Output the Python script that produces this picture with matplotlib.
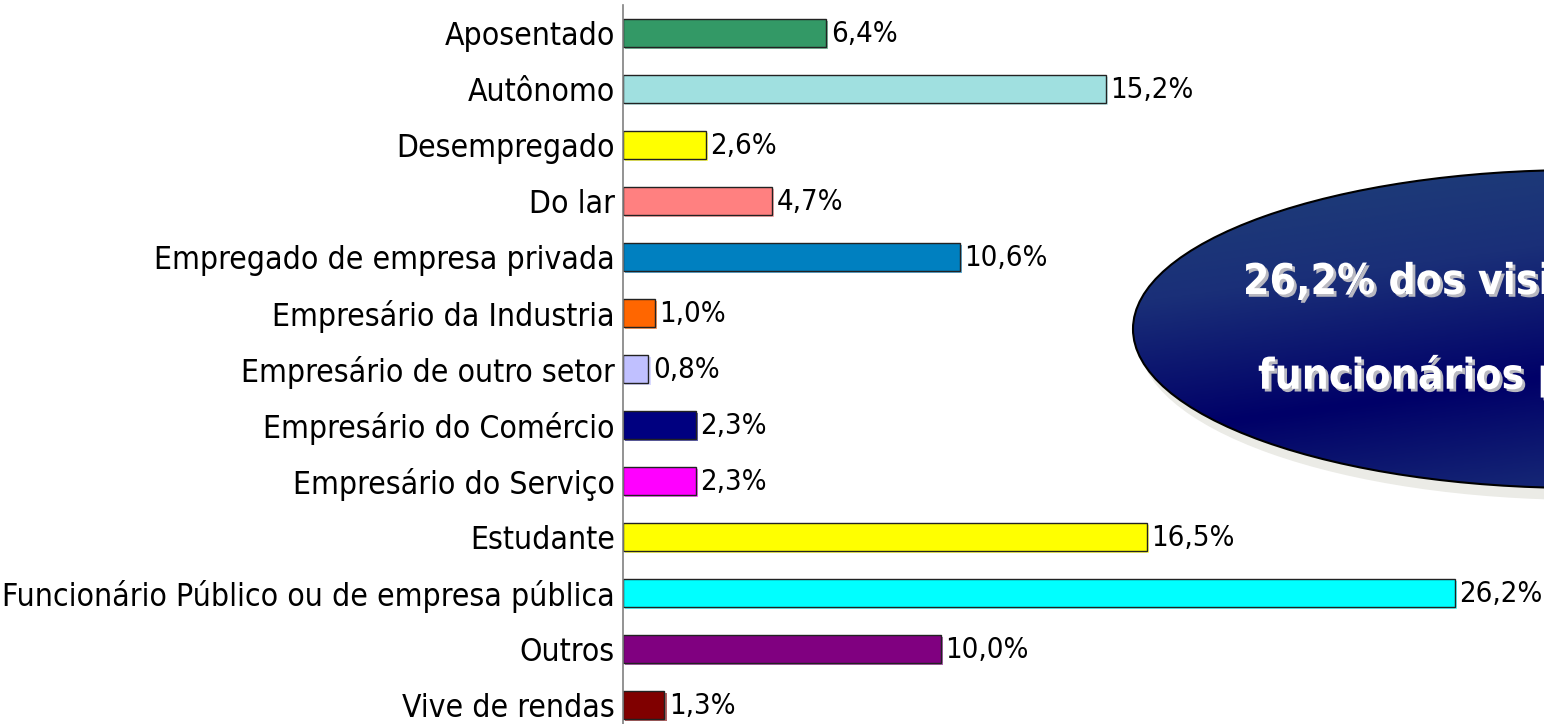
import numpy as np
import matplotlib
matplotlib.use("Agg")
import matplotlib.pyplot as plt
from matplotlib.patches import Ellipse
import matplotlib.patheffects as pe

categorias = ["Aposentado", "Autônomo", "Desempregado", "Do lar",
              "Empregado de empresa privada", "Empresário da Industria",
              "Empresário de outro setor", "Empresário do Comércio",
              "Empresário do Serviço", "Estudante",
              "Funcionário Público ou de empresa pública", "Outros",
              "Vive de rendas"]
valores = [6.4, 15.2, 2.6, 4.7, 10.6, 1.0, 0.8, 2.3, 2.3, 16.5, 26.2, 10.0, 1.3]
cores = ["#339966", "#a0e0e0", "#ffff00", "#ff8080", "#0080c0", "#ff6600",
         "#c0c0ff", "#000080", "#ff00ff", "#ffff00", "#00ffff", "#800080",
         "#800000"]
destaque = ["26,2% dos visitantes são", "funcionários públicos"]

plt.rcParams['font.family'] = ['DejaVu Sans']
TAM = 22.9

fig = plt.figure(figsize=(15.44, 7.24), dpi=100)
ax = fig.add_axes([623/1544, -9/724, 1 - 623/1544, 728/724])

y = np.arange(len(categorias))
# sombra leve das barras
ax.barh(y + 0.03, valores, height=0.5, left=0.07, color=cores, alpha=0.6, zorder=1)
ax.barh(y, valores, height=0.5, color=cores, edgecolor="#222222", linewidth=1.0, zorder=2)
for yi, v in zip(y, valores):
    ax.text(v + 0.14, yi + 0.01, f"{v:.1f}%".replace(".", ","), va="center", ha="left",
            fontsize=21, fontstretch="condensed", color="black", zorder=3)

ax.set_xlim(0, 29.0)
ax.set_ylim(len(categorias) - 0.5, -0.5)
ax.set_yticks(y)
ax.set_yticklabels(categorias, fontsize=TAM, fontstretch="condensed")
ax.tick_params(axis="y", length=0, pad=6)
ax.set_xticks([])
for s in ["top", "right", "bottom"]:
    ax.spines[s].set_visible(False)
ax.spines["left"].set_color("#808080")
ax.spines["left"].set_linewidth(1.2)
ax.set_facecolor("none")

# elipse com degradê
ax2 = fig.add_axes([0, 0, 1, 1])
ax2.set_xlim(0, 1544)
ax2.set_ylim(724, 0)
ax2.axis("off")
cx, cy, w, h = 1580, 329, 894, 318
sombra = Ellipse((cx + 6, cy + 12), w, h, facecolor="#ebebe6", edgecolor="none", zorder=1)
ax2.add_patch(sombra)
elipse = Ellipse((cx, cy), w, h, facecolor="none", edgecolor="black", linewidth=1.5, zorder=3)
ax2.add_patch(elipse)
gx, gy = np.meshgrid(np.linspace(0, 1, 200), np.linspace(0, 1, 200))
t = gx * 0.35 + gy * 0.9
grad = np.abs(t - 0.75) / 0.75
cmap = matplotlib.colors.LinearSegmentedColormap.from_list("g", ["#000068", "#1a2f78", "#1f4078"])
im = ax2.imshow(grad, cmap=cmap, extent=[cx - w/2, cx + w/2, cy + h/2, cy - h/2],
                aspect="auto", zorder=2, vmin=0, vmax=1)
im.set_clip_path(elipse)
sombra_txt = [pe.withSimplePatchShadow(offset=(2, -2), shadow_rgbFace="#b8b8c0", alpha=1.0)]
ax2.text(1243, 282, destaque[0], ha="left", va="center", color="white", fontsize=30.5,
         fontweight="bold", fontstretch="condensed", zorder=4, path_effects=sombra_txt)
ax2.text(1258, 376, destaque[1], ha="left", va="center", color="white", fontsize=30.5,
         fontweight="bold", fontstretch="condensed", zorder=4, path_effects=sombra_txt)

fig.savefig("out.png", dpi=100)
